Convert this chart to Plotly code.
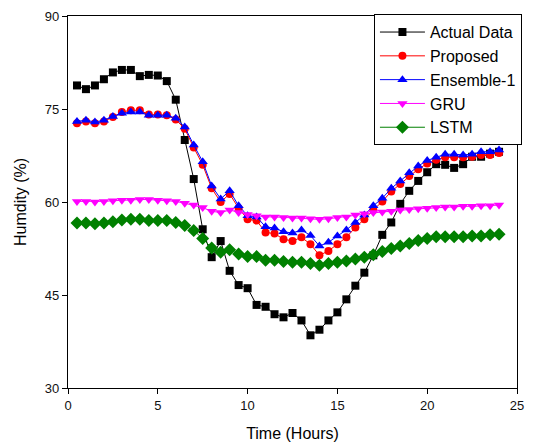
import plotly.graph_objects as go

hours = [0.5 * (i + 1) for i in range(48)]

actual = [78.8, 78.2, 78.8, 79.8, 80.9, 81.3, 81.3, 80.3, 80.5, 80.4, 79.5, 76.5,
          70.0, 63.7, 55.6, 51.1, 53.7, 48.9, 46.6, 46.1, 43.4, 43.1, 41.9, 41.4,
          42.1, 40.9, 38.5, 39.4, 40.9, 42.2, 44.3, 46.5, 48.6, 51.4, 54.7, 56.7,
          59.7, 61.8, 63.4, 64.8, 66.1, 66.0, 65.5, 66.1, 67.3, 67.3, 67.8, 68.1]

proposed = [72.7, 73.0, 72.7, 73.0, 73.7, 74.5, 74.8, 74.8, 74.1, 74.1, 74.0, 73.3,
            71.8, 68.8, 66.0, 62.2, 60.0, 61.3, 59.0, 57.2, 57.0, 55.1, 54.9, 54.0,
            53.7, 54.3, 53.2, 51.4, 52.1, 53.2, 54.3, 55.9, 57.2, 58.7, 60.1, 61.7,
            62.9, 64.2, 65.3, 66.2, 66.8, 67.2, 67.2, 67.2, 67.3, 67.6, 67.6, 67.9]

ensemble1 = [73.0, 73.2, 72.9, 73.2, 73.8, 74.3, 74.5, 74.5, 74.0, 74.0, 74.0, 73.5,
             72.1, 69.2, 66.5, 62.6, 60.5, 61.8, 59.4, 57.8, 57.6, 56.0, 55.8, 55.2,
             55.0, 55.5, 54.6, 52.9, 53.5, 54.5, 55.5, 56.7, 57.9, 59.4, 60.6, 62.2,
             63.4, 64.7, 65.8, 66.7, 67.2, 67.7, 67.7, 67.6, 67.7, 68.1, 68.1, 68.4]

gru = [60.1, 60.1, 60.0, 60.1, 60.2, 60.3, 60.3, 60.4, 60.4, 60.3, 60.2, 60.1,
       59.8, 59.5, 59.1, 58.5, 58.3, 58.7, 58.3, 58.0, 57.8, 57.6, 57.6, 57.5,
       57.4, 57.4, 57.3, 57.2, 57.3, 57.5, 57.6, 57.9, 58.1, 58.3, 58.4, 58.5,
       58.7, 58.8, 58.9, 59.0, 59.1, 59.2, 59.2, 59.3, 59.3, 59.4, 59.4, 59.5]

lstm = [56.6, 56.6, 56.5, 56.6, 56.8, 57.1, 57.2, 57.2, 57.0, 57.0, 57.0, 56.7,
        56.2, 55.4, 54.1, 52.6, 51.9, 52.3, 51.6, 51.2, 51.2, 50.6, 50.6, 50.4,
        50.3, 50.3, 50.1, 49.8, 50.1, 50.3, 50.5, 50.8, 51.1, 51.5, 52.0, 52.5,
        52.9, 53.3, 53.8, 54.1, 54.4, 54.4, 54.4, 54.4, 54.5, 54.5, 54.7, 54.8]

x_ticks = [0, 5, 10, 15, 20, 25]
y_ticks = [30, 45, 60, 75, 90]

series = [
    ("Actual Data", actual, "#000000", "square", 8),
    ("Proposed", proposed, "#ff0000", "circle", 8),
    ("Ensemble-1", ensemble1, "#0000ff", "triangle-up", 9),
    ("GRU", gru, "#ff00ff", "triangle-down", 9),
    ("LSTM", lstm, "#008000", "diamond", 10),
]

fig = go.Figure()
for name, vals, color, sym, size in series:
    fig.add_trace(go.Scatter(
        x=hours, y=vals, name=name, mode="lines+markers",
        line=dict(color=color, width=1),
        marker=dict(symbol=sym, size=size, color=color, line=dict(width=0)),
    ))

axis_common = dict(
    showline=True, linecolor="#000000", linewidth=1.3, mirror=True,
    ticks="outside", ticklen=5, tickwidth=1, tickcolor="#000000",
    showgrid=False, zeroline=False, automargin=False,
    tickfont=dict(family="Liberation Sans, Arial", size=13, color="#111111"),
)

fig.update_layout(
    width=533, height=444,
    margin=dict(l=68, r=11, t=16, b=56),
    paper_bgcolor="white", plot_bgcolor="white",
    font=dict(family="Liberation Sans, Arial", color="#000000"),
    xaxis=dict(range=[0, 25], tickvals=x_ticks,
               title=dict(text="Time (Hours)", font=dict(size=16), standoff=16),
               **axis_common),
    yaxis=dict(range=[30, 90], tickvals=y_ticks,
               title=dict(text="Humdity (%)", font=dict(size=16), standoff=14),
               **axis_common),
    legend=dict(x=1.011, xanchor="right", y=1.005, yanchor="top",
                bgcolor="white", bordercolor="#000000", borderwidth=1,
                font=dict(size=16, color="#000000"), tracegroupgap=0,
                itemsizing="trace", itemwidth=45),
    showlegend=True,
)

fig.write_html("out.html")
